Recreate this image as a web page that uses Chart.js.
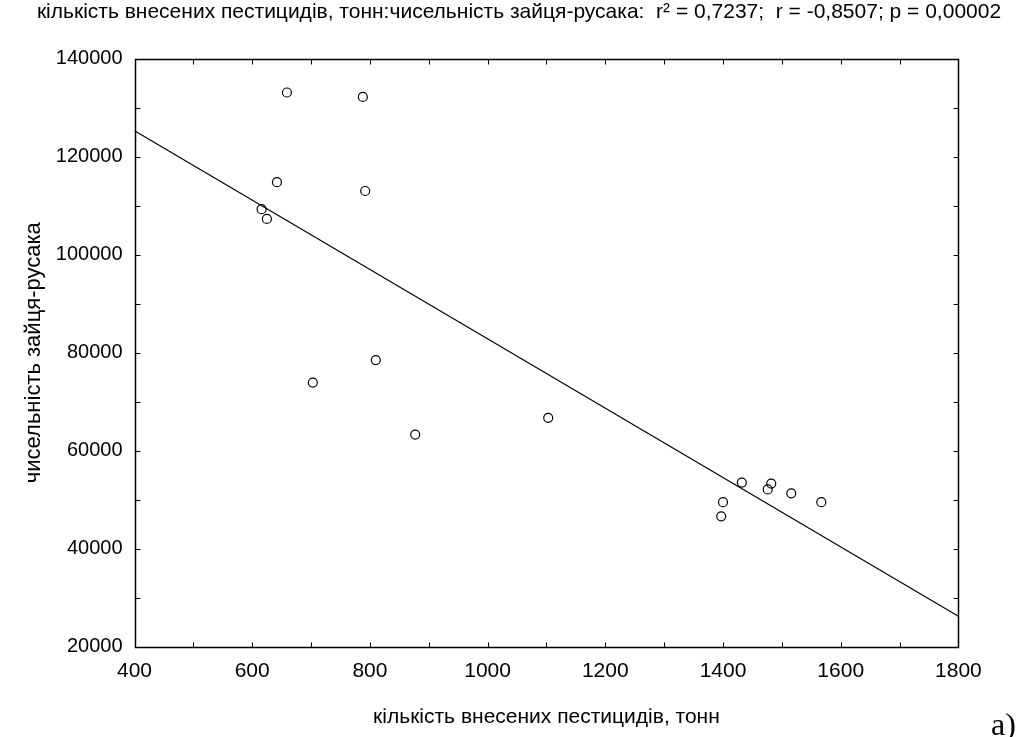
<!DOCTYPE html>
<html>
<head>
<meta charset="utf-8">
<script src="https://cdn.jsdelivr.net/npm/chart.js@4/dist/chart.umd.min.js"></script>
<style>
  html, body { margin: 0; padding: 0; background: #fff; }
  #chart { display: block; }
</style>
</head>
<body>
<canvas id="chart" width="1020" height="737"></canvas>
<script>
// пестициди (тонн) vs чисельність зайця-русака
const pesticides = [659, 788, 642, 792, 616, 625, 810, 703, 1103, 877, 1397, 1400, 1432, 1476, 1482, 1516, 1567];
const hares = [133100, 132200, 114800, 113000, 109300, 107300, 78500, 73900, 66700, 63300, 46600, 49500, 53500, 52100, 53300, 51300, 49500];

// fitted line end points
const trendX = [400, 1800];
const trendY = [125300, 26200];

const xTicksLabelled = [400, 600, 800, 1000, 1200, 1400, 1600, 1800];
const yTicksLabelled = [20000, 40000, 60000, 80000, 100000, 120000, 140000];

const TITLE = 'кількість внесених пестицидів, тонн:чисельність зайця-русака:  r² = 0,7237;  r = -0,8507; p = 0,00002';
const X_TITLE = 'кількість внесених пестицидів, тонн';
const Y_TITLE = 'чисельність зайця-русака';
const SANS = '"Liberation Sans", Arial, sans-serif';

// frame + inward tick marks on all four sides, plus the "a)" marker
const framePlugin = {
  id: 'frame',
  afterDatasetsDraw(chart) {
    const { ctx, chartArea: a, scales } = chart;
    const L = Math.round(a.left) + 0.5, R = Math.round(a.right) + 0.5;
    const T = Math.round(a.top) + 0.5, B = Math.round(a.bottom) + 0.5;
    ctx.save();
    ctx.strokeStyle = '#000';
    ctx.lineWidth = 1;
    ctx.beginPath();
    scales.x.ticks.forEach(t => {
      const px = Math.round(scales.x.getPixelForValue(t.value)) + 0.5;
      ctx.moveTo(px, B); ctx.lineTo(px, B - 5);
      ctx.moveTo(px, T); ctx.lineTo(px, T + 5);
    });
    scales.y.ticks.forEach(t => {
      const py = Math.round(scales.y.getPixelForValue(t.value)) + 0.5;
      ctx.moveTo(L, py); ctx.lineTo(L + 5, py);
      ctx.moveTo(R, py); ctx.lineTo(R - 5, py);
    });
    ctx.stroke();
    ctx.lineWidth = 1.5;
    ctx.strokeRect(L, T, R - L, B - T);
    ctx.fillStyle = '#000';
    ctx.font = '32px "Liberation Serif", "Times New Roman", serif';
    ctx.textBaseline = 'alphabetic';
    ctx.fillText('a)', 991, 735);
    ctx.restore();
  }
};

new Chart(document.getElementById('chart'), {
  type: 'scatter',
  data: {
    datasets: [
      {
        data: pesticides.map((x, i) => ({ x, y: hares[i] })),
        pointStyle: 'circle',
        pointRadius: 4.5,
        pointBorderWidth: 1.2,
        pointBorderColor: '#000',
        pointBackgroundColor: 'rgba(255,255,255,0)',
      },
      {
        data: trendX.map((x, i) => ({ x, y: trendY[i] })),
        showLine: true,
        borderColor: '#000',
        borderWidth: 1.2,
        pointRadius: 0,
      },
    ],
  },
  options: {
    responsive: false,
    animation: false,
    devicePixelRatio: 1,
    layout: { padding: { left: 18, right: 0, top: 0, bottom: 0 } },
    plugins: {
      legend: { display: false },
      tooltip: { enabled: false },
      title: {
        display: true,
        text: TITLE,
        color: '#000',
        font: { family: SANS, size: 21, weight: 'normal' },
        padding: { top: 0, bottom: 33.5 },
      },
    },
    scales: {
      x: {
        type: 'linear',
        min: 400, max: 1800,
        grid: { display: false, drawTicks: false },
        border: { display: false },
        ticks: {
          stepSize: 100,
          autoSkip: false,
          maxRotation: 0,
          padding: 12,
          color: '#000',
          font: { family: SANS, size: 21 },
          callback: v => xTicksLabelled.includes(v) ? String(v) : '',
        },
        title: {
          display: true,
          text: X_TITLE,
          color: '#000',
          font: { family: SANS, size: 21 },
          padding: { top: 0, bottom: 7 },
        },
        afterFit: s => { s.height = 90.3; },
      },
      y: {
        type: 'linear',
        min: 20000, max: 140000,
        grid: { display: false, drawTicks: false },
        border: { display: false },
        ticks: {
          stepSize: 10000,
          autoSkip: false,
          padding: 12,
          color: '#000',
          font: { family: SANS, size: 20 },
          callback: v => yTicksLabelled.includes(v) ? String(v) : '',
        },
        title: {
          display: true,
          text: Y_TITLE,
          color: '#000',
          font: { family: SANS, size: 22 },
          padding: { top: 3, bottom: 0 },
        },
        afterFit: s => { s.width = 116.5; },
      },
      yRight: {
        type: 'linear',
        position: 'right',
        grid: { display: false, drawTicks: false },
        border: { display: false },
        ticks: { display: false },
        afterFit: s => { s.width = 61.6; },
      },
    },
  },
  plugins: [framePlugin],
});
</script>
</body>
</html>
